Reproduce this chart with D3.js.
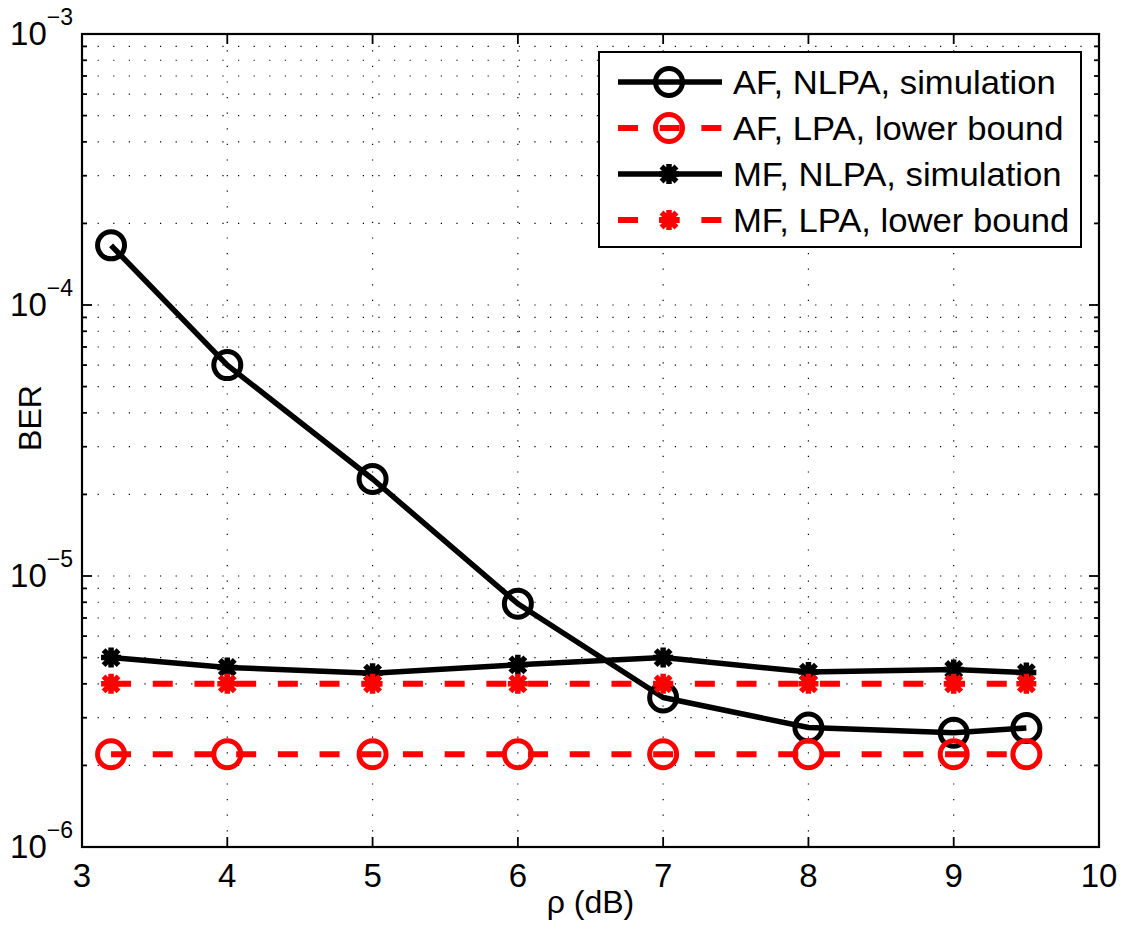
<!DOCTYPE html>
<html><head><meta charset="utf-8">
<script src="https://cdn.jsdelivr.net/npm/d3@7"></script>
<style>body{margin:0;background:#fff}svg{display:block}</style>
</head><body>
<svg id="c" width="1127" height="927"></svg>
<script>
const xValues = [3.2, 4, 5, 6, 7, 8, 9, 9.5];
const afNlpaSim = [1.66e-4, 6.0e-5, 2.28e-5, 7.9e-6, 3.56e-6, 2.76e-6, 2.64e-6, 2.75e-6];
const afLpaBound = [2.2e-6, 2.2e-6, 2.2e-6, 2.2e-6, 2.2e-6, 2.2e-6, 2.2e-6, 2.2e-6];
const mfNlpaSim = [5.0e-6, 4.6e-6, 4.38e-6, 4.7e-6, 5.0e-6, 4.42e-6, 4.52e-6, 4.4e-6];
const mfLpaBound = [4.0e-6, 4.0e-6, 4.0e-6, 4.0e-6, 4.0e-6, 4.0e-6, 4.0e-6, 4.0e-6];
const seriesNames = ["AF, NLPA, simulation", "AF, LPA, lower bound", "MF, NLPA, simulation", "MF, LPA, lower bound"];
const xTicks = [3, 4, 5, 6, 7, 8, 9, 10];
const yTickExponents = [-6, -5, -4, -3];
const xLabel = "ρ (dB)";
const yLabel = "BER";

const FONT = "'Liberation Sans', Arial, Helvetica, sans-serif";
const svg = d3.select("#c").style("font-family", FONT);
const L = 82, R = 1099, T = 34, B = 847;
const x = d3.scaleLinear().domain([3, 10]).range([L, R]);
const y = d3.scaleLog().domain([1e-6, 1e-3]).range([B, T]);

// grid
const minorVals = [];
for (let e = -6; e < -3; e++) for (let m = 1; m <= 9; m++) minorVals.push(m * Math.pow(10, e));
const grid = svg.append("g");
grid.selectAll("line.h").data(minorVals.filter(v => v > 1e-6 * 1.001)).join("line")
  .attr("x1", L).attr("x2", R).attr("y1", d => y(d)).attr("y2", d => y(d))
  .attr("stroke", "#000").attr("stroke-width", 1.2).attr("stroke-dasharray", "1.2,14.4");
grid.selectAll("line.v").data(xTicks.slice(1, -1)).join("line")
  .attr("x1", d => x(d)).attr("x2", d => x(d)).attr("y1", B).attr("y2", T)
  .attr("stroke", "#000").attr("stroke-width", 1.2).attr("stroke-dasharray", "1.2,14.4");

// axes box
svg.append("rect").attr("x", L).attr("y", T).attr("width", R - L).attr("height", B - T)
  .attr("fill", "none").attr("stroke", "#000").attr("stroke-width", 2.2);

// ticks
const tk = svg.append("g").attr("stroke", "#000").attr("stroke-width", 1.8);
xTicks.forEach(t => {
  tk.append("line").attr("x1", x(t)).attr("x2", x(t)).attr("y1", B).attr("y2", B - 10);
  tk.append("line").attr("x1", x(t)).attr("x2", x(t)).attr("y1", T).attr("y2", T + 10);
});
yTickExponents.forEach(e => {
  const v = Math.pow(10, e);
  tk.append("line").attr("x1", L).attr("x2", L + 10).attr("y1", y(v)).attr("y2", y(v));
  tk.append("line").attr("x1", R).attr("x2", R - 10).attr("y1", y(v)).attr("y2", y(v));
});
minorVals.filter(v => Math.abs(Math.log10(v) - Math.round(Math.log10(v))) > 1e-6).forEach(v => {
  tk.append("line").attr("x1", L).attr("x2", L + 5).attr("y1", y(v)).attr("y2", y(v));
  tk.append("line").attr("x1", R).attr("x2", R - 5).attr("y1", y(v)).attr("y2", y(v));
});

// tick labels
svg.append("g").selectAll("text").data(xTicks).join("text")
  .attr("x", d => x(d)).attr("y", 887).attr("text-anchor", "middle")
  .attr("font-size", 33).attr("fill", "#000").text(d => d);
const yl = svg.append("g").selectAll("text").data(yTickExponents).join("text")
  .attr("x", 73).attr("y", d => y(Math.pow(10, d)) + 11).attr("text-anchor", "end").attr("fill", "#000");
yl.append("tspan").attr("font-size", 33).text("10");
yl.append("tspan").attr("font-size", 23).attr("dy", -20).text(d => "\u2212" + Math.abs(d));

// axis labels
svg.append("text").attr("x", (L + R) / 2).attr("y", 913).attr("text-anchor", "middle")
  .attr("font-size", 32).attr("fill", "#000").text(xLabel);
svg.append("text").attr("transform", `translate(41,${418}) rotate(-90)`).attr("text-anchor", "middle")
  .attr("font-size", 32).attr("fill", "#000").text(yLabel);

// series
const series = [
  {name: seriesNames[0], vals: afNlpaSim, color: "#000", dash: null, marker: "o"},
  {name: seriesNames[1], vals: afLpaBound, color: "#ff0000", dash: "20,21.7", marker: "o"},
  {name: seriesNames[2], vals: mfNlpaSim, color: "#000", dash: null, marker: "*"},
  {name: seriesNames[3], vals: mfLpaBound, color: "#ff0000", dash: "20,21.7", marker: "*"}
];
const line = d3.line().x(d => x(d[0])).y(d => y(d[1]));
function drawMarker(g, type, cx, cy, color) {
  if (type === "o") {
    g.append("circle").attr("cx", cx).attr("cy", cy).attr("r", 13.5)
      .attr("fill", "none").attr("stroke", color).attr("stroke-width", 5);
  } else {
    const a = 10, b = 7.5;
    g.append("circle").attr("cx", cx).attr("cy", cy).attr("r", 6.5).attr("fill", color);
    g.append("path")
      .attr("d", `M${cx - a},${cy}L${cx + a},${cy}M${cx},${cy - a}L${cx},${cy + a}` +
        `M${cx - b},${cy - b}L${cx + b},${cy + b}M${cx - b},${cy + b}L${cx + b},${cy - b}`)
      .attr("stroke", color).attr("stroke-width", 5.5).attr("fill", "none");
  }
}
series.forEach(s => {
  const g = svg.append("g");
  const pts = xValues.map((xv, i) => [xv, s.vals[i]]);
  g.append("path").datum(pts).attr("d", line).attr("fill", "none")
    .attr("stroke", s.color).attr("stroke-width", s.dash ? 6 : 5.5)
    .attr("stroke-dasharray", s.dash).attr("stroke-linejoin", "round");
  pts.forEach(p => drawMarker(g, s.marker, x(p[0]), y(p[1]), s.color));
});

// legend
const lg = svg.append("g");
lg.append("rect").attr("x", 599).attr("y", 52).attr("width", 482).attr("height", 195)
  .attr("fill", "#fff").attr("stroke", "#000").attr("stroke-width", 2);
const legY = [82, 128, 174, 220];
series.forEach((s, i) => {
  const yy = legY[i];
  lg.append("line").attr("x1", 618).attr("x2", 722).attr("y1", yy).attr("y2", yy)
    .attr("stroke", s.color).attr("stroke-width", s.dash ? 6 : 5.5).attr("stroke-dasharray", s.dash);
  drawMarker(lg, s.marker, 669, yy, s.color);
  lg.append("text").attr("transform", `translate(733,${yy + 12}) scale(1.05,1)`)
    .attr("font-size", 33).attr("fill", "#000").text(s.name);
});
</script>
</body></html>
